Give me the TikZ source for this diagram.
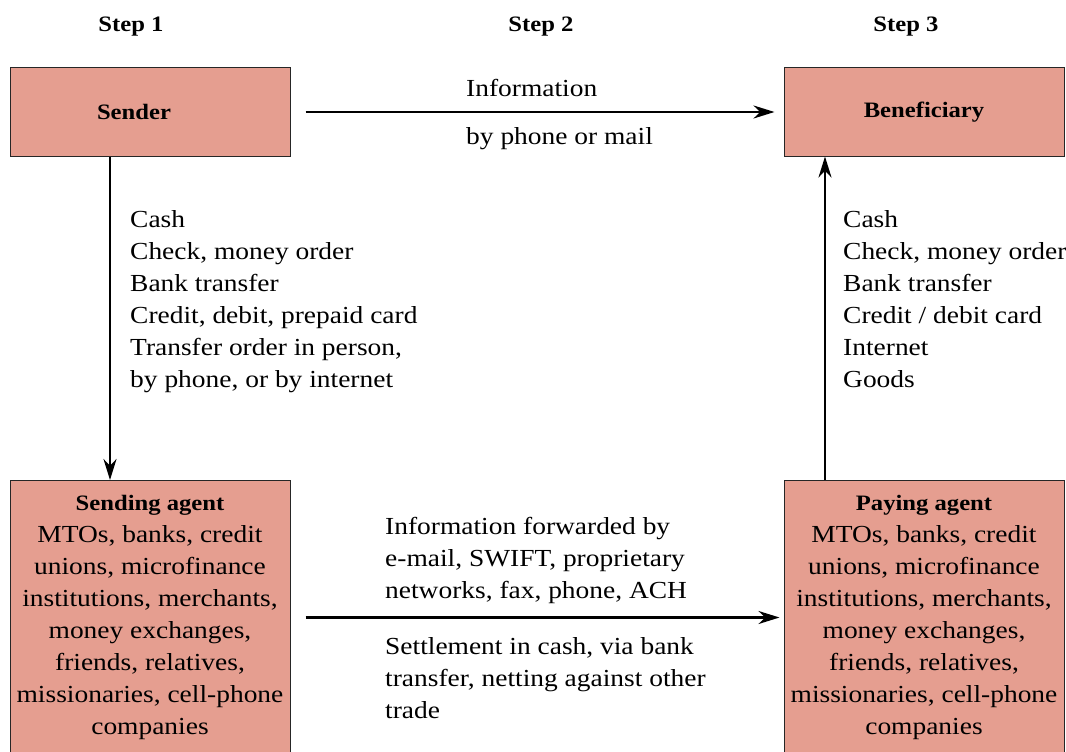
\documentclass[tikz,border=0pt]{standalone}
\usepackage{fontspec}
\setmainfont{Liberation Serif}[FakeStretch=1.12]
\usetikzlibrary{arrows.meta,positioning}
\definecolor{boxred}{RGB}{229,158,144}
\newcommand{\headtxt}[1]{{\fontsize{22}{32}\selectfont\bfseries #1}}

\begin{document}
\begin{tikzpicture}[x=1pt,y=-1pt,>={Stealth[length=21pt,width=13pt]},line width=2.4pt,
  every node/.style={font=\fontsize{24.5}{32}\selectfont,inner sep=0pt,align=left},
  party/.style={draw=black!85,line width=1pt,fill=boxred,minimum width=280pt,minimum height=88pt,align=center},
  agent/.style={party,anchor=north,minimum height=274pt},
  steplbl/.style={font=\fontsize{22}{26}\selectfont\bfseries}]
\useasboundingbox (0,0) rectangle (1066,752);
% step headings
\node[steplbl] (s1) at (131,27) {Step 1};
\node[steplbl] (s2) at (541,27) {Step 2};
\node[steplbl] (s3) at (906,27) {Step 3};
% parties
\node[party] (sender) at (150,112) {\headtxt{Sender}\hspace*{32pt}};
\node[party] (benef) at (924,112) {\headtxt{Beneficiary}};
\node[agent] (sagent) at (150,480) {\headtxt{Sending agent}\\MTOs, banks, credit\\unions, microfinance\\institutions, merchants,\\money exchanges,\\friends, relatives,\\missionaries, cell-phone\\companies};
\node[agent] (pagent) at (924,480) {\headtxt{Paying agent}\\MTOs, banks, credit\\unions, microfinance\\institutions, merchants,\\money exchanges,\\friends, relatives,\\missionaries, cell-phone\\companies};
% labels
\node[anchor=north west] (infoa) at (465,78) {Information};
\node[anchor=north west] (infob) at (465,126) {by phone or mail};
\node[anchor=north west] (sendlist) at (129,209) {Cash\\Check, money order\\Bank transfer\\Credit, debit, prepaid card\\Transfer order in person,\\by phone, or by internet};
\node[anchor=north west] (paylist) at (842,209) {Cash\\Check, money order\\Bank transfer\\Credit / debit card\\Internet\\Goods};
\node[anchor=north west] (fwd) at (384,516) {Information forwarded by\\e-mail, SWIFT, proprietary\\networks, fax, phone, ACH};
\node[anchor=north west] (settle) at (384,636) {Settlement in cash, via bank\\transfer, netting against other\\trade};
% flows
\draw[->,shorten <=15pt,shorten >=9pt] (sender) -- (benef);
\draw[->,shorten <=15pt,shorten >=4pt] (sagent) -- (pagent);
\draw[->] ([xshift=-40pt]sender.south) -- ([xshift=-40pt]sagent.north);
\draw[->] ([xshift=-99pt]pagent.north) -- ([xshift=-99pt]benef.south);
\end{tikzpicture}
\end{document}
